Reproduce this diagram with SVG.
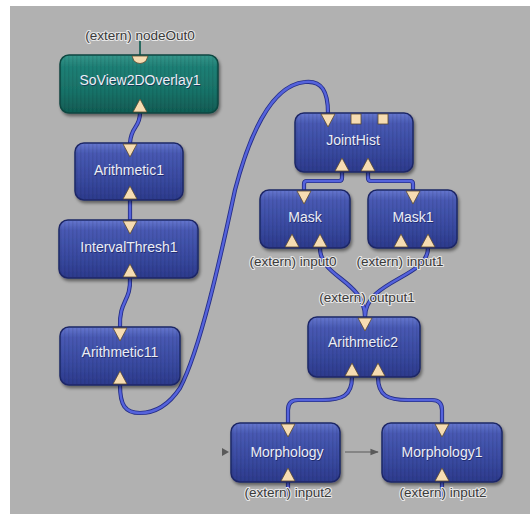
<svg xmlns="http://www.w3.org/2000/svg" width="530" height="514" viewBox="0 0 530 514">
  <defs>
    <linearGradient id="blueBody" x1="0" y1="0" x2="0" y2="1">
      <stop offset="0" stop-color="#6577cf"/>
      <stop offset="0.18" stop-color="#4859b3"/>
      <stop offset="0.6" stop-color="#3a4ba2"/>
      <stop offset="1" stop-color="#2c3a8c"/>
    </linearGradient>
    <linearGradient id="tealBody" x1="0" y1="0" x2="0" y2="1">
      <stop offset="0" stop-color="#35968b"/>
      <stop offset="0.2" stop-color="#1f8076"/>
      <stop offset="0.65" stop-color="#187167"/>
      <stop offset="1" stop-color="#105c54"/>
    </linearGradient>
    <pattern id="brushed" width="4" height="10" patternUnits="userSpaceOnUse">
      <rect x="0" y="0" width="1.5" height="10" fill="#000" opacity="0.07"/>
    </pattern>
    <filter id="shadow" x="-10%" y="-10%" width="130%" height="140%">
      <feDropShadow dx="1.5" dy="2.5" stdDeviation="1.8" flood-color="#000" flood-opacity="0.45"/>
    </filter>
    <marker id="grayArrow" viewBox="0 0 10 10" refX="9" refY="5" markerWidth="7" markerHeight="7" orient="auto">
      <path d="M0,1 L10,5 L0,9 Z" fill="#5a5a5a"/>
    </marker>
    <style>
      .body { fill: url(#blueBody); stroke: #1d2866; stroke-width: 1.5; }
      .teal { fill: url(#tealBody); stroke: #0b4640; stroke-width: 1.5; }
      .tex { fill: url(#brushed); }
      .name { font-family: "Liberation Sans", Arial, sans-serif; font-size: 14px; fill: #eceef6; text-anchor: middle; }
      .shade { font-family: "Liberation Sans", Arial, sans-serif; font-size: 14px; fill: #101a50; text-anchor: middle; opacity: 0.6; }
      .ext { font-family: "Liberation Sans", Arial, sans-serif; font-size: 13.5px; fill: #3a3a3a; text-anchor: middle; stroke: #e6e6e6; stroke-width: 2.2; paint-order: stroke; stroke-linejoin: round; }
      .port { fill: #f6dcb2; stroke: #5c4a2e; stroke-width: 0.8; }
      .wireEdge { fill: none; stroke: #262f88; stroke-width: 4.2; stroke-linecap: round; stroke-linejoin: round; }
      .wire { fill: none; stroke: #5563dc; stroke-width: 2.4; stroke-linecap: round; stroke-linejoin: round; }
      .gray { fill: none; stroke: #5a5a5a; stroke-width: 1.2; }
    </style>
  </defs>

  <!-- canvas -->
  <rect x="0" y="0" width="530" height="514" fill="#ffffff"/>
  <rect x="10" y="6" width="520" height="508" fill="#b1b1b1"/>

  <!-- connectors -->
  <g id="connectors">
    <path d="M140,41 L140,56" fill="none" stroke="#2a6a60" stroke-width="2"/>
    <g class="wireEdge">
      <path d="M140,113 C140,128 131,126 130,143"/>
      <path d="M130,200 L130,220"/>
      <path d="M130,278 C131,302 119,300 120,327"/>
      <path d="M120,385 C120,405 125,413 140,413 C160,413 172,400 180,388 C200,350 220,260 235,190 C248,140 270,85 305,82 C322,80 328,92 328,113"/>
      <path d="M342,172 L342,178 Q342,181 339,181 L307,181 Q304,181 304,184 L304,190"/>
      <path d="M368,172 L368,178 Q368,181 371,181 L410,181 Q413,181 413,184 L413,190"/>
      <path d="M320,248 C320,278 365,280 365,317"/>
      <path d="M428,248 C428,278 365,280 365,317"/>
      <path d="M352,377 C352,396 342,400 322,400 L298,400 Q288,400 288,410 L288,423"/>
      <path d="M378,377 C378,396 388,400 408,400 L432,400 Q442,400 442,410 L442,423"/>
      <path d="M288,482 L288,497"/>
      <path d="M442,482 L442,497"/>
    </g>
    <g class="wire">
      <path d="M140,113 C140,128 131,126 130,143"/>
      <path d="M130,200 L130,220"/>
      <path d="M130,278 C131,302 119,300 120,327"/>
      <path d="M120,385 C120,405 125,413 140,413 C160,413 172,400 180,388 C200,350 220,260 235,190 C248,140 270,85 305,82 C322,80 328,92 328,113"/>
      <path d="M342,172 L342,178 Q342,181 339,181 L307,181 Q304,181 304,184 L304,190"/>
      <path d="M368,172 L368,178 Q368,181 371,181 L410,181 Q413,181 413,184 L413,190"/>
      <path d="M320,248 C320,278 365,280 365,317"/>
      <path d="M428,248 C428,278 365,280 365,317"/>
      <path d="M352,377 C352,396 342,400 322,400 L298,400 Q288,400 288,410 L288,423"/>
      <path d="M378,377 C378,396 388,400 408,400 L432,400 Q442,400 442,410 L442,423"/>
      <path d="M288,482 L288,497"/>
      <path d="M442,482 L442,497"/>
    </g>
    <path class="gray" d="M345,452 L378,452" marker-end="url(#grayArrow)"/>
    <path d="M222,448 L229,452 L222,456 Z" fill="#5a5a5a"/>
  </g>

  <!-- SoView2DOverlay1 -->
  <g id="SoView2DOverlay1">
    <rect x="60" y="55" width="158" height="58" rx="9" class="teal" filter="url(#shadow)"/>
    <rect x="61" y="56" width="156" height="56" rx="8" class="tex"/>
    <text x="140.7" y="85.7" class="shade">SoView2DOverlay1</text>
    <text x="140" y="85" class="name">SoView2DOverlay1</text>
    <path class="port" d="M132,56 L148,56 L146,61 Q140,66 134,61 Z"/>
    <path class="port" d="M133,112 L147,112 L140,99 Z"/>
    <text x="140" y="40" class="ext">(extern) nodeOut0</text>
  </g>

  <!-- Arithmetic1 -->
  <g id="Arithmetic1">
    <rect x="75" y="143" width="108" height="57" rx="9" class="body" filter="url(#shadow)"/>
    <rect x="76" y="144" width="106" height="55" rx="8" class="tex"/>
    <text x="129.7" y="175.7" class="shade">Arithmetic1</text>
    <text x="129" y="175" class="name">Arithmetic1</text>
    <path class="port" d="M123,144 L137,144 L130,157 Z"/>
    <path class="port" d="M123,199 L137,199 L130,186 Z"/>
  </g>

  <!-- IntervalThresh1 -->
  <g id="IntervalThresh1">
    <rect x="59" y="220" width="139" height="58" rx="9" class="body" filter="url(#shadow)"/>
    <rect x="60" y="221" width="137" height="56" rx="8" class="tex"/>
    <text x="129.7" y="252.7" class="shade">IntervalThresh1</text>
    <text x="129" y="252" class="name">IntervalThresh1</text>
    <path class="port" d="M123,221 L137,221 L130,234 Z"/>
    <path class="port" d="M123,277 L137,277 L130,264 Z"/>
  </g>

  <!-- Arithmetic11 -->
  <g id="Arithmetic11">
    <rect x="60" y="327" width="120" height="58" rx="9" class="body" filter="url(#shadow)"/>
    <rect x="61" y="328" width="118" height="56" rx="8" class="tex"/>
    <text x="120.7" y="357.7" class="shade">Arithmetic11</text>
    <text x="120" y="357" class="name">Arithmetic11</text>
    <path class="port" d="M113,328 L127,328 L120,341 Z"/>
    <path class="port" d="M113,384 L127,384 L120,371 Z"/>
  </g>

  <!-- JointHist -->
  <g id="JointHist">
    <rect x="295" y="113" width="118" height="59" rx="9" class="body" filter="url(#shadow)"/>
    <rect x="296" y="114" width="116" height="57" rx="8" class="tex"/>
    <text x="353.7" y="145.7" class="shade">JointHist</text>
    <text x="353" y="145" class="name">JointHist</text>
    <path class="port" d="M321,114 L335,114 L328,127 Z"/>
    <rect class="port" x="351" y="114" width="10" height="10"/>
    <rect class="port" x="378" y="114" width="10" height="10"/>
    <path class="port" d="M335,171 L349,171 L342,158 Z"/>
    <path class="port" d="M361,171 L375,171 L368,158 Z"/>
  </g>

  <!-- Mask -->
  <g id="Mask">
    <rect x="260" y="190" width="90" height="58" rx="9" class="body" filter="url(#shadow)"/>
    <rect x="261" y="191" width="88" height="56" rx="8" class="tex"/>
    <text x="305.7" y="222.7" class="shade">Mask</text>
    <text x="305" y="222" class="name">Mask</text>
    <path class="port" d="M297,191 L311,191 L304,204 Z"/>
    <path class="port" d="M285,247 L299,247 L292,234 Z"/>
    <path class="port" d="M313,247 L327,247 L320,234 Z"/>
    <text x="293" y="266" class="ext">(extern) input0</text>
  </g>

  <!-- Mask1 -->
  <g id="Mask1">
    <rect x="368" y="190" width="89" height="58" rx="9" class="body" filter="url(#shadow)"/>
    <rect x="369" y="191" width="87" height="56" rx="8" class="tex"/>
    <text x="413.7" y="222.7" class="shade">Mask1</text>
    <text x="413" y="222" class="name">Mask1</text>
    <path class="port" d="M406,191 L420,191 L413,204 Z"/>
    <path class="port" d="M394,247 L408,247 L401,234 Z"/>
    <path class="port" d="M421,247 L435,247 L428,234 Z"/>
    <text x="400" y="266" class="ext">(extern) input1</text>
  </g>

  <!-- Arithmetic2 -->
  <g id="Arithmetic2">
    <text x="367" y="302" class="ext">(extern) output1</text>
    <rect x="308" y="317" width="112" height="60" rx="9" class="body" filter="url(#shadow)"/>
    <rect x="309" y="318" width="110" height="58" rx="8" class="tex"/>
    <text x="363.7" y="347.7" class="shade">Arithmetic2</text>
    <text x="363" y="347" class="name">Arithmetic2</text>
    <path class="port" d="M358,318 L372,318 L365,331 Z"/>
    <path class="port" d="M345,376 L359,376 L352,363 Z"/>
    <path class="port" d="M371,376 L385,376 L378,363 Z"/>
  </g>

  <!-- Morphology -->
  <g id="Morphology">
    <rect x="231" y="423" width="109" height="59" rx="9" class="body" filter="url(#shadow)"/>
    <rect x="232" y="424" width="107" height="57" rx="8" class="tex"/>
    <text x="287.7" y="457.7" class="shade">Morphology</text>
    <text x="287" y="457" class="name">Morphology</text>
    <path class="port" d="M281,424 L295,424 L288,437 Z"/>
    <path class="port" d="M281,481 L295,481 L288,468 Z"/>
    <text x="288" y="497" class="ext">(extern) input2</text>
  </g>

  <!-- Morphology1 -->
  <g id="Morphology1">
    <rect x="382" y="423" width="120" height="59" rx="9" class="body" filter="url(#shadow)"/>
    <rect x="383" y="424" width="118" height="57" rx="8" class="tex"/>
    <text x="442.7" y="457.7" class="shade">Morphology1</text>
    <text x="442" y="457" class="name">Morphology1</text>
    <path class="port" d="M435,424 L449,424 L442,437 Z"/>
    <path class="port" d="M435,481 L449,481 L442,468 Z"/>
    <text x="443" y="497" class="ext">(extern) input2</text>
  </g>
</svg>
